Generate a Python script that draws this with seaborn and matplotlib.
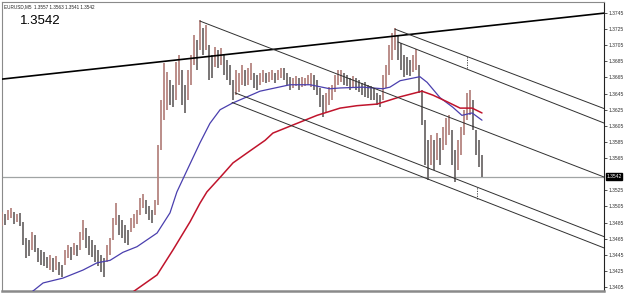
import numpy as np
import pandas as pd
import matplotlib
matplotlib.use("Agg")
import matplotlib.pyplot as plt
import seaborn as sns

# ---- data (prices in pips above 1.3400, x in bar index) ----
BASE = 1.3400
high_pips = [98, 96, 100, 103, 98, 96, 97, 86, 66, 63, 73, 69, 53, 51, 48, 42, 45, 41, 43, 36,
             32, 51, 57, 55, 60, 57, 73, 88, 78, 68, 63, 57, 51, 45, 41, 57, 66, 91, 109, 94,
             88, 82, 76, 91, 96, 100, 115, 120, 113, 105, 100, 113, 181, 237, 283, 272, 262, 256, 284, 293,
             274, 256, 274, 293, 318, 311, 336, 326, 330, 305, 293, 303, 299, 301, 293, 287, 280, 262, 274, 271,
             280, 274, 277, 283, 271, 268, 271, 274, 271, 272, 274, 271, 274, 277, 277, 271, 266, 264, 267, 264,
             266, 264, 268, 271, 268, 262, 252, 243, 246, 253, 256, 268, 274, 274, 271, 268, 264, 267, 264, 262,
             258, 259, 256, 254, 252, 246, 243, 268, 280, 305, 320, 326, 318, 308, 293, 290, 287, 293, 300, 280,
             249, 212, 187, 194, 187, 196, 190, 203, 215, 218, 200, 175, 187, 203, 225, 246, 249, 237, 200, 187,
             169]
low_pips = [81, 82, 88, 91, 83, 86, 81, 57, 41, 43, 51, 48, 36, 32, 31, 29, 26, 24, 26, 20,
            17, 32, 41, 38, 45, 43, 51, 63, 53, 45, 42, 36, 31, 24, 17, 36, 45, 63, 82, 69,
            66, 60, 57, 73, 78, 83, 94, 103, 96, 88, 84, 94, 107, 175, 212, 225, 231, 228, 237, 256,
            231, 221, 237, 256, 280, 274, 299, 293, 299, 262, 264, 278, 277, 280, 268, 262, 256, 237, 243, 247,
            256, 255, 256, 262, 252, 249, 256, 260, 258, 260, 262, 258, 262, 264, 262, 256, 249, 252, 255, 249,
            253, 255, 256, 253, 249, 243, 228, 216, 222, 231, 237, 247, 256, 260, 256, 255, 249, 253, 249, 247,
            243, 241, 240, 237, 237, 231, 228, 237, 252, 268, 287, 299, 287, 274, 266, 268, 267, 272, 274, 246,
            206, 156, 138, 156, 150, 163, 156, 175, 181, 194, 156, 135, 150, 169, 194, 212, 218, 200, 169, 154,
            141]

blue_ma_bar = [8.7, 10, 13.7, 20.3, 27, 31.7, 36, 40.3, 45, 51.7, 56, 58.3, 61.7, 66, 69.3, 72.7, 76.7,
               81.7, 86, 96, 102.7, 109.3, 112.7, 120.3, 127, 129.3, 132.7, 139.3, 141.7, 146, 150.3,
               153.3, 156.7, 160]
blue_ma_pips = [-5, -1, 10, 16, 26, 35, 38, 48, 55, 72, 97, 123, 150, 184, 208, 225, 233,
                241, 248, 256, 256, 251, 252, 253, 251, 253, 261, 266, 259, 240, 228,
                218, 221, 212]
red_ma_bar = [42.7, 43.7, 51.7, 57, 62.7, 66, 68.3, 72.7, 77, 82.7, 87.7, 90.3, 98.3, 105, 112.7,
              118.3, 125, 129.3, 132.7, 140, 143.7, 148.3, 152.7, 156.7, 160]
red_ma_pips = [-5, -1, 20, 51, 86, 109, 123, 141, 159, 174, 187, 196, 208, 218, 227,
               230, 232, 237, 241, 248, 243, 235, 227, 227, 221]

trend_bars = [0, 201]
trend_pips = [263, 345]
chan1_top_bars, chan1_top_pips = [66, 201], [335, 141]
chan1_a_bars, chan1_a_pips = [77.7, 201], [246, 67]
chan1_b_bars, chan1_b_pips = [76.7, 201], [234, 53]
chan2_top_bars, chan2_top_pips = [131, 201], [325, 226]
chan2_b_bars, chan2_b_pips = [132, 201], [309, 208]
mark1_bar, mark1_pips = 155, [277, 292]
mark2_bar, mark2_pips = 158.3, [114, 129]

last_price = 1.3542
header = "EURUSD,M5  1.3557 1.3563 1.3541 1.3542"
tick_prices = [1.3405, 1.3425, 1.3445, 1.3465, 1.3485, 1.3505, 1.3525, 1.3565, 1.3585,
               1.3605, 1.3625, 1.3645, 1.3665, 1.3685, 1.3705, 1.3725, 1.3745]

# ---- style ----
sns.set_style("white")
plt.rcParams['font.family'] = ['Liberation Sans', 'DejaVu Sans']

fig = plt.figure(figsize=(6.25, 2.93), dpi=100)
ax = fig.add_axes([2 / 625, 2 / 293, 602 / 625, 289 / 293])

def px(p):
    return BASE + np.asarray(p, dtype=float) / 10000.0

# candles
hi = px(high_pips)
lo = px(low_pips)
bars = np.arange(len(hi))
mid = (hi + lo) / 2
prev = np.concatenate([[mid[0]], mid[:-1]])
up = mid >= prev
ax.vlines(bars[up], lo[up], hi[up], color="#b58580", lw=1.3, zorder=3)
ax.vlines(bars[~up], lo[~up], hi[~up], color="#6e6a6a", lw=1.3, zorder=3)

# moving averages
sns.lineplot(x=blue_ma_bar, y=px(blue_ma_pips), ax=ax, color="#4a3fae", lw=0.9, estimator=None, sort=False, zorder=4)
sns.lineplot(x=red_ma_bar, y=px(red_ma_pips), ax=ax, color="#c0142c", lw=1.1, estimator=None, sort=False, zorder=4)

# trend lines / channels
sns.lineplot(x=trend_bars, y=px(trend_pips), ax=ax, color="black", lw=1.2, estimator=None, zorder=5)
for bx, by in [(chan1_top_bars, chan1_top_pips), (chan1_a_bars, chan1_a_pips), (chan1_b_bars, chan1_b_pips),
               (chan2_top_bars, chan2_top_pips), (chan2_b_bars, chan2_b_pips)]:
    sns.lineplot(x=bx, y=px(by), ax=ax, color="#303030", lw=0.7, estimator=None, zorder=5)
ax.vlines([mark1_bar], px(mark1_pips[0]), px(mark1_pips[1]), color="#303030", lw=0.6, linestyles=(0, (1.5, 1.5)), zorder=5)
ax.vlines([mark2_bar], px(mark2_pips[0]), px(mark2_pips[1]), color="#303030", lw=0.6, linestyles=(0, (1.5, 1.5)), zorder=5)

# last price line
ax.axhline(last_price, color="#a0a4a4", lw=0.9, zorder=2)

ax.set_xlim(0, 200.67)
ax.set_ylim(1.3400, 1.37587)
ax.set_xticks([])
ax.yaxis.tick_right()
ax.set_yticks(tick_prices)
ax.set_yticklabels([f"{t:.4f}" for t in tick_prices])
ax.tick_params(axis="y", right=True, length=2, width=0.6, pad=1.5, labelsize=3.6, colors="#333333")
ax.set_xlabel("")
ax.set_ylabel("")
if ax.get_legend():
    ax.get_legend().remove()

for side in ["top", "left"]:
    ax.spines[side].set_color("#8a8a8a")
    ax.spines[side].set_linewidth(0.8)
ax.spines["bottom"].set_color("#8a8a8a")
ax.spines["bottom"].set_linewidth(1.8)
ax.spines["right"].set_color("#222222")
ax.spines["right"].set_linewidth(0.8)

ax.text(1.004, last_price, f"{last_price:.4f}", transform=ax.get_yaxis_transform(), fontsize=3.6,
        color="white", va="center", ha="left",
        bbox=dict(boxstyle="square,pad=0.15", fc="black", ec="black"))

ax.text(0.003, 0.992, header, transform=ax.transAxes, fontsize=3.3, color="#222222", va="top", ha="left")
ax.text(18 / 602, 1 - 13 / 289, f"{last_price:.4f}", transform=ax.transAxes, fontsize=9.5,
        color="black", va="top", ha="left")

fig.savefig("out.png", dpi=100)
